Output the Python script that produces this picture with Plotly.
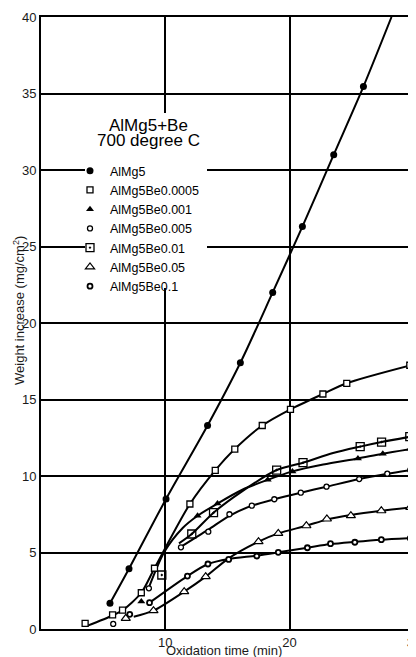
import plotly.graph_objects as go

# ---------------- data ----------------
series_names = ["AlMg5", "AlMg5Be0.0005", "AlMg5Be0.001", "AlMg5Be0.005",
                "AlMg5Be0.01", "AlMg5Be0.05", "AlMg5Be0.1"]

# measured points (oxidation time in min, weight increase in mg/cm2)
almg5_t = [5.55, 7.08, 10.06, 13.4, 16.04, 18.64, 21.03, 23.55, 25.94]
almg5_w = [1.68, 3.94, 8.5, 13.3, 17.4, 22.0, 26.3, 31.0, 35.45]

be0005_t = [3.55, 5.76, 6.56, 8.07, 9.13, 11.98, 14.02, 15.59, 17.8, 20.07, 22.68, 24.6, 29.67]
be0005_w = [0.37, 0.92, 1.24, 2.37, 3.97, 8.17, 10.37, 11.76, 13.3, 14.36, 15.36, 16.06, 17.24]

be001_t = [8.07, 12.6, 14.2, 18.24, 20.23, 25.5, 27.5, 29.7]
be001_w = [1.8, 7.4, 8.2, 9.75, 10.3, 11.15, 11.46, 11.78]

be005_t = [5.81, 8.68, 11.26, 13.46, 15.16, 16.96, 18.77, 20.9, 22.97, 25.6, 27.86, 29.71]
be005_w = [0.33, 2.66, 5.34, 6.36, 7.5, 8.06, 8.48, 8.91, 9.3, 9.8, 10.15, 10.39]

be01_t = [9.72, 12.13, 13.88, 18.96, 21.08, 25.68, 27.4, 29.67]
be01_w = [3.53, 6.21, 7.6, 10.39, 10.87, 11.92, 12.22, 12.57]

be05_t = [6.82, 9.05, 11.52, 13.25, 17.5, 19.09, 21.35, 23.0, 24.93, 27.38, 29.71]
be05_w = [0.7, 1.2, 2.44, 3.42, 5.71, 6.25, 6.75, 7.19, 7.41, 7.73, 7.95]

be1_t = [7.14, 8.73, 11.78, 13.43, 15.1, 17.36, 19.09, 21.43, 23.29, 25.25, 27.38, 29.71]
be1_w = [0.96, 1.72, 3.46, 4.25, 4.55, 4.77, 5.01, 5.31, 5.58, 5.67, 5.84, 5.93]

# hand-drawn fitted curves
almg5_ct = [5.55, 7.08, 10.06, 13.4, 16.04, 18.64, 21.03, 23.55, 25.94, 28.2]
almg5_cw = [1.68, 3.94, 8.5, 13.3, 17.4, 22.0, 26.3, 31.0, 35.45, 40.0]

be0005_ct = [3.7, 5.8, 6.6, 8.07, 9.13, 11.98, 14.02, 15.59, 17.8, 20.07, 22.68, 24.6, 30.2]
be0005_cw = [0.2, 0.9, 1.25, 2.37, 3.97, 8.17, 10.37, 11.76, 13.3, 14.36, 15.36, 16.06, 17.33]

be001_ct = [8.68, 9.93, 11.4, 12.6, 14.2, 16.2, 18.24, 20.23, 22.7, 25.5, 27.5, 30.2]
be001_cw = [2.72, 5.05, 6.6, 7.4, 8.2, 9.1, 9.75, 10.3, 10.75, 11.15, 11.46, 11.82]

be005_ct = [11.1, 13.46, 15.16, 16.96, 18.77, 20.9, 22.97, 25.6, 27.86, 30.2]
be005_cw = [5.3, 6.5, 7.4, 8.06, 8.48, 8.91, 9.3, 9.8, 10.15, 10.45]

be01_ct = [11.1, 12.13, 13.88, 16.0, 18.96, 21.08, 23.5, 25.68, 27.4, 30.2]
be01_cw = [5.6, 6.21, 7.6, 8.9, 10.39, 10.87, 11.5, 11.92, 12.22, 12.64]

be05_ct = [7.46, 9.05, 11.52, 13.25, 15.1, 17.5, 19.09, 21.35, 23.0, 24.93, 27.38, 30.2]
be05_cw = [0.8, 1.2, 2.44, 3.42, 4.62, 5.71, 6.25, 6.75, 7.15, 7.45, 7.73, 7.99]

be1_ct = [8.73, 11.78, 13.43, 15.1, 17.36, 19.09, 21.43, 23.29, 25.25, 27.38, 30.2]
be1_cw = [1.72, 3.46, 4.25, 4.58, 4.8, 5.01, 5.31, 5.55, 5.7, 5.84, 5.96]

x_tickvals = [10, 20, 30]
y_tickvals = [0, 5, 10, 15, 20, 25, 30, 35, 40]

# ---------------- styling ----------------
FONT = "Liberation Sans, Arial, Helvetica, sans-serif"
INK = "black"
LABEL = "#1a1a1a"

# the page body has an 8px margin, so the figure is placed at (8, 8)
OFF = 8
W, H = 416 - OFF, 657 - OFF
# plot area wanted on screen: x 41..416, y 17..629
L, R, T, B = 41 - OFF, 0, 17 - OFF, 657 - 629
PW, PH = W - L - R, H - T - B


def px(xs):
    """screen x pixel -> paper fraction"""
    return (xs - OFF - L) / PW


def py(ys):
    """screen y pixel -> paper fraction"""
    return (H - B - (ys - OFF)) / PH


points = [
    (almg5_t, almg5_w, dict(symbol="circle", size=7, color=INK)),
    (be0005_t, be0005_w, dict(symbol="square", size=6, color="white", line=dict(color=INK, width=1.3))),
    (be001_t, be001_w, dict(symbol="triangle-up", size=7, color=INK)),
    (be005_t, be005_w, dict(symbol="circle", size=5, color="white", line=dict(color=INK, width=1.3))),
    (be01_t, be01_w, dict(symbol="square-open-dot", size=8, color=INK, line=dict(width=1.3))),
    (be05_t, be05_w, dict(symbol="triangle-up", size=8, color="white", line=dict(color=INK, width=1.2))),
    (be1_t, be1_w, dict(symbol="circle", size=5, color="white", line=dict(color=INK, width=1.8))),
]
curves = [
    (almg5_ct, almg5_cw), (be0005_ct, be0005_cw), (be001_ct, be001_cw),
    (be005_ct, be005_cw), (be01_ct, be01_cw), (be05_ct, be05_cw), (be1_ct, be1_cw),
]

fig = go.Figure()
for (ct, cw) in curves:
    fig.add_trace(go.Scatter(x=ct, y=cw, mode="lines", showlegend=False, hoverinfo="skip",
                             line=dict(color=INK, width=2, shape="spline", smoothing=0.8)))
for name, (t, w, mk) in zip(series_names, points):
    fig.add_trace(go.Scatter(x=t, y=w, mode="markers", name=name, marker=mk, cliponaxis=False))

# white box behind the caption and legend (hides the grid there)
fig.add_shape(type="rect", xref="paper", yref="paper", layer="above",
              x0=px(85), x1=px(207), y0=py(288), y1=py(113),
              fillcolor="white", line=dict(width=0))

fig.add_annotation(text="AlMg5+Be", xref="paper", yref="paper",
                   x=px(148), y=py(125), showarrow=False,
                   font=dict(family=FONT, size=17, color=INK), xanchor="center", yanchor="middle")
fig.add_annotation(text="700 degree C", xref="paper", yref="paper",
                   x=px(148), y=py(141), showarrow=False,
                   font=dict(family=FONT, size=17, color=INK), xanchor="center", yanchor="middle")

# axis titles
fig.add_annotation(text="Oxidation time (min)", xref="paper", yref="paper",
                   x=px(224), y=py(650), showarrow=False,
                   font=dict(family=FONT, size=13, color=LABEL), xanchor="center", yanchor="middle")
fig.add_annotation(text="Weight increase (mg/cm<sup>2</sup>)", xref="paper", yref="paper",
                   x=px(19), y=py(311), showarrow=False, textangle=-90,
                   font=dict(family=FONT, size=13, color=LABEL), xanchor="center", yanchor="middle")

fig.update_layout(
    width=W, height=H,
    margin=dict(l=L, r=R, t=T, b=B, autoexpand=False),
    paper_bgcolor="white", plot_bgcolor="white",
    font=dict(family=FONT, size=12, color=LABEL),
    showlegend=True,
    legend=dict(x=px(70), y=py(156), xanchor="left", yanchor="top",
                bgcolor="rgba(0,0,0,0)", borderwidth=0,
                font=dict(family=FONT, size=12.5, color=INK), itemsizing="trace"),
)
fig.update_xaxes(range=[0, 30.17], tickvals=x_tickvals, ticks="", ticklen=0, showgrid=True,
                 automargin=False, gridcolor=INK, gridwidth=1.6, zeroline=False,
                 showline=True, linecolor=INK, linewidth=2, mirror=True,
                 ticklabeloverflow="allow",
                 tickfont=dict(family=FONT, size=13, color=LABEL))
fig.update_yaxes(range=[0, 40], tickvals=y_tickvals, ticks="", ticklen=0, showgrid=True,
                 automargin=False, gridcolor=INK, gridwidth=1.6, zeroline=False,
                 showline=True, linecolor=INK, linewidth=2, mirror=True,
                 ticklabeloverflow="allow",
                 tickfont=dict(family=FONT, size=13, color=LABEL))

fig.write_html("out.html")
